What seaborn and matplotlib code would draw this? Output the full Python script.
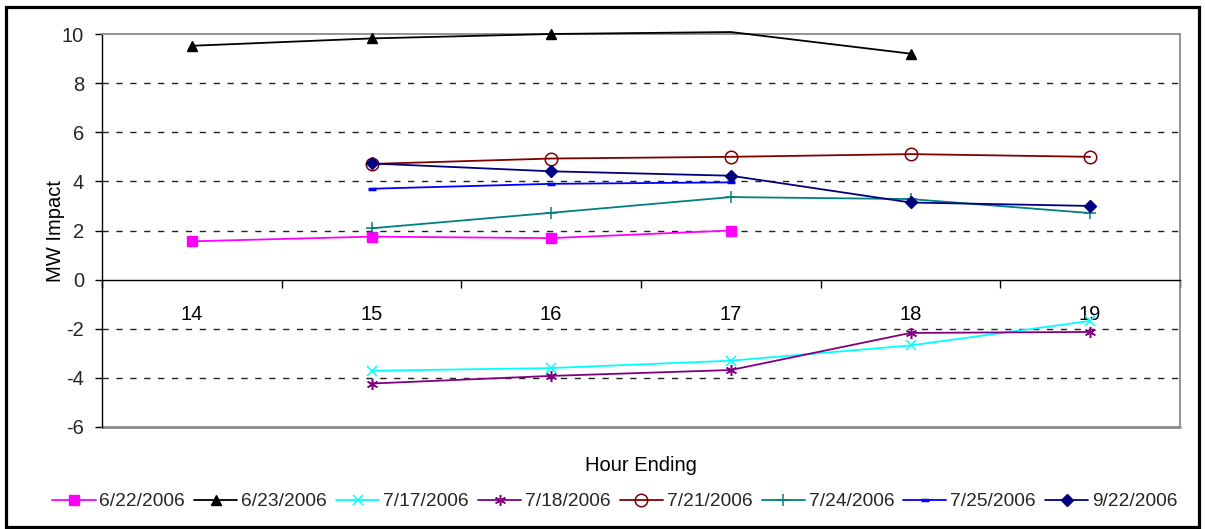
import numpy as np
import pandas as pd
import matplotlib
matplotlib.use("Agg")
import matplotlib.pyplot as plt
from matplotlib.patches import Rectangle
from matplotlib.ticker import FixedLocator
import seaborn as sns

# ---------------- data ----------------
hours = [14, 15, 16, 17, 18, 19]
series_names = ["6/22/2006", "6/23/2006", "7/17/2006", "7/18/2006",
                "7/21/2006", "7/24/2006", "7/25/2006", "9/22/2006"]
nan = np.nan
s_0622 = [1.56, 1.75, 1.69, 2.00, nan, nan]
s_0623 = [9.52, 9.82, 10.00, 10.08, 9.20, nan]
s_0717 = [nan, -3.71, -3.60, -3.30, -2.68, -1.68]
s_0718 = [nan, -4.23, -3.92, -3.68, -2.17, -2.13]
s_0721 = [nan, 4.71, 4.93, 5.00, 5.11, 5.00]
s_0724 = [nan, 2.09, 2.72, 3.36, 3.28, 2.71]
s_0725 = [nan, 3.70, 3.90, 3.96, nan, nan]
s_0922 = [nan, 4.73, 4.41, 4.23, 3.14, 3.00]
series_values = [s_0622, s_0623, s_0717, s_0718, s_0721, s_0724, s_0725, s_0922]
y_ticks = [-6, -4, -2, 0, 2, 4, 6, 8, 10]

# ---------------- styles ----------------
colors = ["#FF00FF", "#000000", "#00FFFF", "#800080",
          "#800000", "#008080", "#0000FF", "#000080"]
markers = ["s", "^", "x", (6, 2, 0), "o", "+", "_", "D"]
msizes = [6.5, 7.5, 7.5, 8, 9, 9, 6, 6.5]
filled = [True, True, False, False, False, False, False, True]
mews = [1, 1, 1.1, 1.1, 1.1, 1.1, 2.5, 1]

sns.set_style("white")
plt.rcParams["font.family"] = ["Liberation Sans", "DejaVu Sans"]

W, H = 1205, 529
fig = plt.figure(figsize=(W / 100, H / 100), dpi=100)
ax_left, ax_right, ax_top, ax_bot = 102, 1180, 34, 427
ax = fig.add_axes([ax_left / W, 1 - ax_bot / H, (ax_right - ax_left) / W, (ax_bot - ax_top) / H])

ymin, ymax = y_ticks[0], y_ticks[-1]
ax.set_xlim(hours[0] - 0.5, hours[-1] + 0.5)
ax.set_ylim(ymin, ymax)

# gridlines
for yv in y_ticks:
    if yv not in (ymin, 0, ymax):
        ax.axhline(yv, color="#222222", lw=1.0, ls=(0, (4.5, 5.5)), zorder=0.5)
ax.axhline(ymin, color="#8a8a8a", lw=2.0, zorder=0.6, clip_on=False)

for name, vals, c, m, ms, f, mw in zip(series_names, series_values, colors,
                                      markers, msizes, filled, mews):
    df = pd.DataFrame({"hour": hours, "val": vals}).dropna()
    sns.lineplot(data=df, x="hour", y="val", ax=ax, color=c, lw=1.3,
                 marker=m, markersize=ms, markeredgecolor=c,
                 markerfacecolor=(c if f else "none"), markeredgewidth=mw,
                 label=name, clip_on=False, zorder=3, estimator=None)
    line = ax.lines[-1]
    yd = np.asarray(line.get_ydata(), dtype=float)
    keep = [i for i, v in enumerate(yd) if ymin <= v <= ymax]
    if len(keep) < len(yd):
        line.set_markevery(keep)

# spines
ax.spines["bottom"].set_position(("data", 0))
ax.spines["bottom"].set_color("black")
ax.spines["bottom"].set_linewidth(1.0)
ax.spines["left"].set_color("black")
ax.spines["left"].set_linewidth(1.0)
for s in ("top", "right"):
    ax.spines[s].set_color("#8a8a8a")
    ax.spines[s].set_linewidth(1.3)

FS = 14.5
# ticks
ax.set_xticks(hours)
ax.set_xticklabels([str(h) for h in hours])
ax.xaxis.set_minor_locator(FixedLocator(np.arange(hours[0] - 0.5, hours[-1] + 0.6, 1)))
ax.tick_params(axis="x", which="major", length=0, pad=18.5, labelsize=FS, colors="black")
ax.tick_params(axis="x", which="minor", length=6, width=1, direction="out", color="black", bottom=True)
ax.set_yticks(y_ticks)
ax.set_yticklabels([str(v) for v in y_ticks])
ax.tick_params(axis="y", which="major", length=5, width=1, direction="out",
               pad=8.0, labelsize=FS, color="black", left=True)

ax.set_ylabel("MW Impact", fontsize=FS, color="black")
ax.yaxis.set_label_coords(-0.034, 0.5)
ax.set_xlabel("Hour Ending", fontsize=FS, color="black")
ax.xaxis.set_label_coords(0.5, -0.097)
ax.xaxis.label.set_va("center")

# legend
handles, labels = ax.get_legend_handles_labels()
ax.get_legend().remove()
fig.legend(handles, labels, loc="center", bbox_to_anchor=(615 / W, 1 - 501.5 / H),
           ncol=8, frameon=False, fontsize=13.8, handlelength=2.25, handletextpad=0.2,
           columnspacing=0.48, borderaxespad=0, borderpad=0)

# outer frame
fig.patches.append(Rectangle((6 / W, 2.5 / H), (1199 - 6) / W, (526.5 - 6.5) / H,
                             transform=fig.transFigure, fill=False,
                             edgecolor="black", lw=2.3))

fig.savefig("out.png", dpi=100)
